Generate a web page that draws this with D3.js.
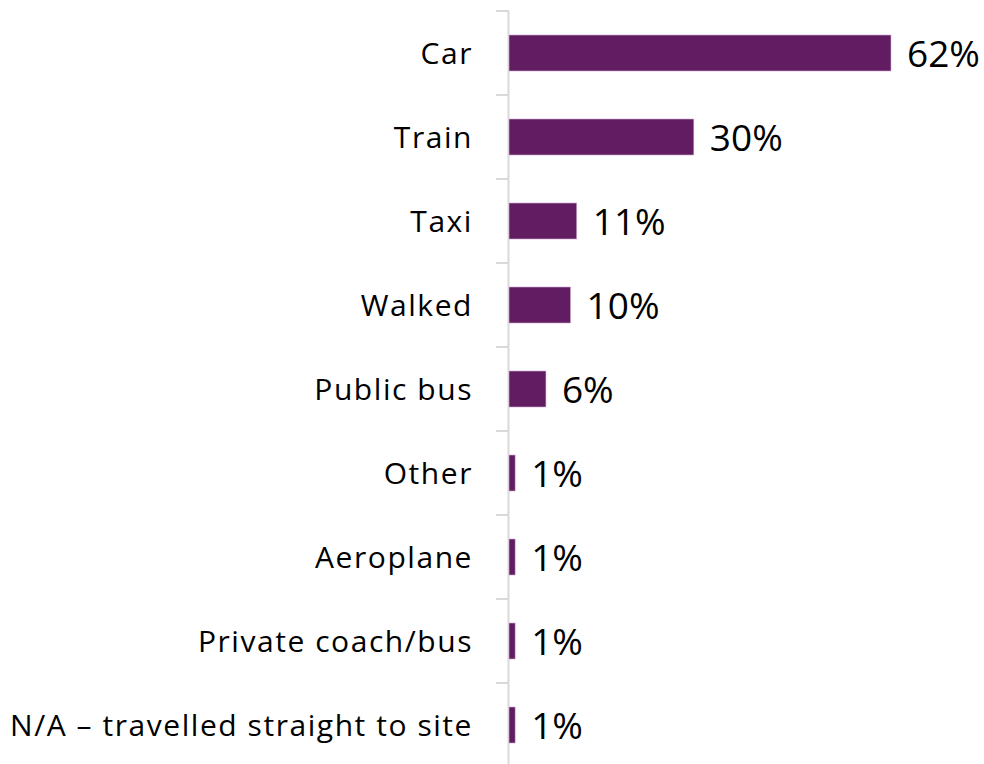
<!DOCTYPE html>
<html>
<head>
<meta charset="utf-8">
<script src="https://cdn.jsdelivr.net/npm/d3@7"></script>
<style>
  html, body { margin: 0; padding: 0; background: #ffffff; }
  svg { display: block; }
</style>
</head>
<body>
<svg id="chart" width="984" height="764"></svg>
<script>
const categories = ["Car", "Train", "Taxi", "Walked", "Public bus", "Other", "Aeroplane", "Private coach/bus", "N/A \u2013 travelled straight to site"];
const values = [62, 30, 11, 10, 6, 1, 1, 1, 1];
const valueLabels = ["62%", "30%", "11%", "10%", "6%", "1%", "1%", "1%", "1%"];

const svg = d3.select("#chart");
const x0 = 509;
const x = d3.scaleLinear().domain([0, 62]).range([x0, 891]);
const y = d3.scaleBand().domain(categories).range([11, 767]).paddingInner(0.571).paddingOuter(0.2855);

const fontFam = "'Open Sans', Lato, sans-serif";

// axis line and ticks (category boundaries)
const axisColor = "#d9d9d9";
svg.append("line")
  .attr("x1", x0 - 0.5).attr("x2", x0 - 0.5)
  .attr("y1", 11).attr("y2", 764)
  .attr("stroke", axisColor).attr("stroke-width", 2);
const step = y.step();
const bounds = d3.range(categories.length + 1).map(i => 11 + i * step);
svg.selectAll("line.tick").data(bounds).enter().append("line")
  .attr("class", "tick")
  .attr("x1", 496).attr("x2", x0)
  .attr("y1", d => d).attr("y2", d => d)
  .attr("stroke", axisColor).attr("stroke-width", 2);

// bars
svg.selectAll("rect.bar").data(categories).enter().append("rect")
  .attr("class", "bar")
  .attr("x", x0)
  .attr("y", d => y(d))
  .attr("width", (d, i) => x(values[i]) - x0)
  .attr("height", y.bandwidth())
  .attr("fill", "#611c62")
  .attr("stroke", "#d9b8d9")
  .attr("stroke-width", 0.6);

// category labels
svg.selectAll("text.cat").data(categories).enter().append("text")
  .attr("class", "cat")
  .attr("x", 473)
  .attr("y", d => y(d) + y.bandwidth() / 2 + 11)
  .attr("text-anchor", "end")
  .attr("font-family", fontFam)
  .attr("font-size", 30)
  .attr("letter-spacing", 1.55)
  .attr("fill", "#000")
  .text(d => d);

// value labels
svg.selectAll("text.val").data(categories).enter().append("text")
  .attr("class", "val")
  .attr("x", (d, i) => x(values[i]) + 16)
  .attr("y", d => y(d) + y.bandwidth() / 2 + 14)
  .attr("font-family", fontFam)
  .attr("font-size", 37)
  .attr("fill", "#000")
  .text((d, i) => valueLabels[i]);
</script>
</body>
</html>
